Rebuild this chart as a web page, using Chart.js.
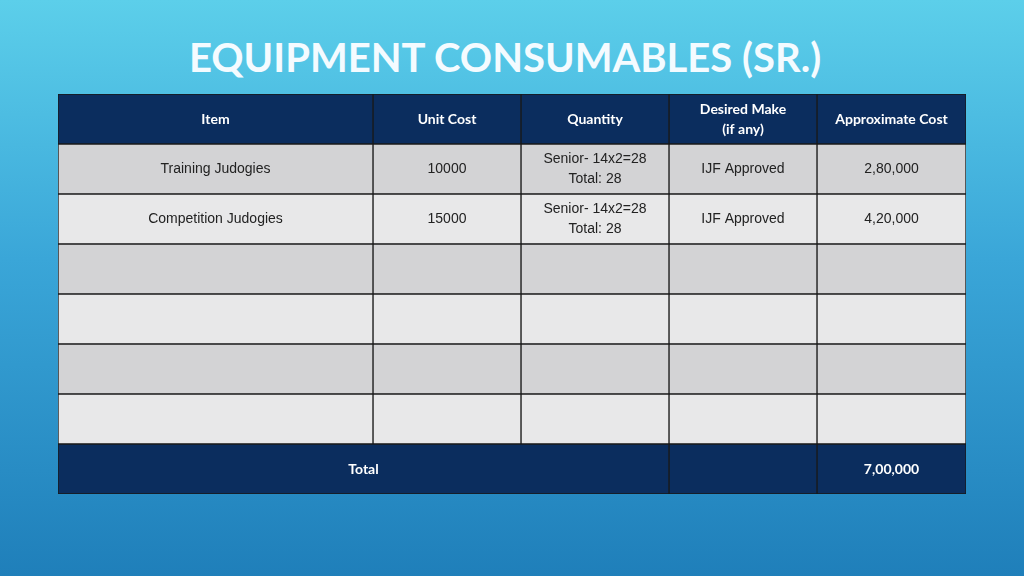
<!DOCTYPE html>
<html>
<head>
<meta charset="utf-8">
<script src="https://cdn.jsdelivr.net/npm/chart.js@4"></script>
<style>
  html, body { margin: 0; padding: 0; width: 1024px; height: 576px; overflow: hidden; }
  body { background: linear-gradient(180deg, #5ccfea 0%, #3aa6d8 45%, #1f7fba 100%); position: relative; }
  #title { position: absolute; left: 0; width: 1010px; top: 33px; text-align: center; color: #f4fbff;
           font: bold 40px Lato, "Open Sans", sans-serif; }
  #wrap { position: absolute; left: 0; top: 0; width: 1024px; height: 576px; }
</style>
</head>
<body>
<div id="title">EQUIPMENT CONSUMABLES (SR.)</div>
<div id="wrap"><canvas id="tbl"></canvas></div>
<script>
// column edges in table units
var columnEdges = [58, 373, 521, 669, 817, 966];
var headers = ['Item', 'Unit Cost', 'Quantity', 'Desired Make\n(if any)', 'Approximate Cost'];
var items = ['Training Judogies', 'Competition Judogies', '', '', '', ''];
var unitCosts = ['10000', '15000', '', '', '', ''];
var quantities = ['Senior- 14x2=28\nTotal: 28', 'Senior- 14x2=28\nTotal: 28', '', '', '', ''];
var makes = ['IJF Approved', 'IJF Approved', '', '', '', ''];
var costs = ['2,80,000', '4,20,000', '', '', '', ''];
var totalLabel = 'Total';
var totalCost = '7,00,000';

var rowKeys = ['h', 'r1', 'r2', 'r3', 'r4', 'r5', 'r6', 't'];
var rowColors = ['#0b2d5e', '#d3d3d5', '#e8e8e9', '#d3d3d5', '#e8e8e9', '#d3d3d5', '#e8e8e9', '#0b2d5e'];
var columns = [items, unitCosts, quantities, makes, costs];

var datasets = columns.map(function(col, c) {
  var data = [], texts = [];
  rowKeys.forEach(function(k, r) {
    if (k == 'h') { data.push([columnEdges[c], columnEdges[c + 1]]); texts.push(headers[c]); }
    else if (k == 't') {
      if (c == 0) { data.push([columnEdges[0], columnEdges[3]]); texts.push(totalLabel); }
      else if (c < 3) { data.push(null); texts.push(''); }
      else { data.push([columnEdges[c], columnEdges[c + 1]]); texts.push(c == 4 ? totalCost : ''); }
    } else { data.push([columnEdges[c], columnEdges[c + 1]]); texts.push(col[r - 1]); }
  });
  return {
    data: data, texts: texts,
    backgroundColor: rowColors, borderColor: '#1a1a1a', borderWidth: 1, borderSkipped: false,
    barPercentage: 1, categoryPercentage: 1, grouped: false
  };
});

var cellText = {
  id: 'cellText',
  afterDatasetsDraw: function(chart) {
    var ctx = chart.ctx;
    ctx.save();
    ctx.textAlign = 'center';
    ctx.textBaseline = 'middle';
    chart.data.datasets.forEach(function(ds, i) {
      chart.getDatasetMeta(i).data.forEach(function(el, j) {
        var t = ds.texts[j];
        if (!t) return;
        var dark = (j == 0 || j == rowKeys.length - 1);
        ctx.fillStyle = dark ? '#ffffff' : '#222222';
        ctx.font = dark ? 'bold 14px Lato, "Open Sans", sans-serif' : '14px "Liberation Sans", Arial, sans-serif';
        var lines = t.split('\n');
        var cx = (el.x + el.base) / 2;
        lines.forEach(function(line, n) {
          ctx.fillText(line, cx, el.y + (n - (lines.length - 1) / 2) * 20);
        });
      });
    });
    ctx.restore();
  }
};

new Chart(document.getElementById('tbl'), {
  type: 'bar',
  data: { labels: rowKeys, datasets: datasets },
  options: {
    indexAxis: 'y', responsive: true, maintainAspectRatio: false, animation: false,
    layout: { padding: { left: 58, right: 58, top: 94, bottom: 82 } },
    scales: {
      x: { display: false, min: 58, max: 966 },
      y: { display: false, offset: true }
    },
    plugins: { legend: { display: false }, tooltip: { enabled: false } }
  },
  plugins: [cellText]
});
</script>
</body>
</html>
